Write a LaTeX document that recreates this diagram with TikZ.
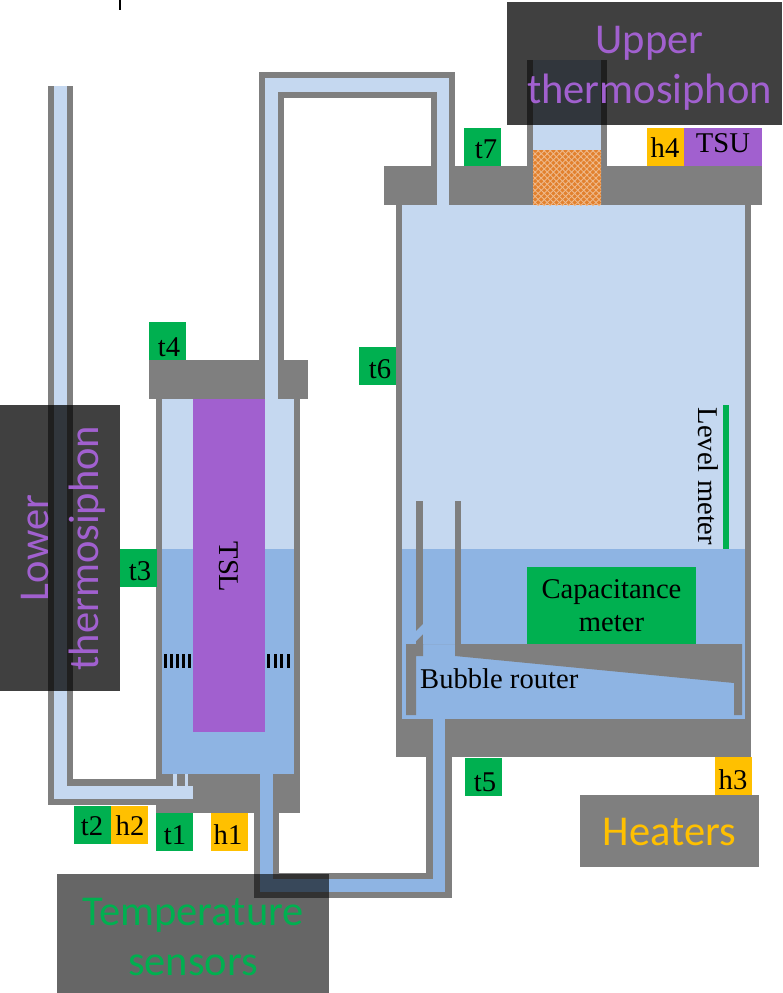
\documentclass[tikz,border=0pt]{standalone}
\usepackage{fontspec}
\setmainfont{Liberation Serif}
\newfontfamily\calfont{Carlito}
\usetikzlibrary{patterns.meta}
\definecolor{wallc}{HTML}{7F7F7F}
\definecolor{vapc}{HTML}{C5D8F0}
\definecolor{liqc}{HTML}{8EB4E3}
\definecolor{tsc}{HTML}{A160CF}
\definecolor{sensc}{HTML}{00B050}
\definecolor{heatc}{HTML}{FFC000}
\definecolor{sandc}{HTML}{E2812E}
\tikzset{
  wall/.style={fill=wallc},
  vap/.style={fill=vapc},
  liq/.style={fill=liqc},
  cold/.style={fill=tsc},
  tagbox/.style={inner sep=0pt, minimum width=37pt, minimum height=38pt},
  tagtxt/.style={inner sep=0pt, font=\fontsize{28.6}{30}\selectfont},
  lbl/.style={inner sep=0pt, align=center, font=\fontsize{28.6}{33}\selectfont},
  veil/.style={fill=black, fill opacity=#1},
  callout/.style={inner sep=0pt, align=center, font=\calfont\fontsize{42.5}{50}\selectfont},
}
\begin{document}
\begin{tikzpicture}[x=1pt, y=-1pt]
\useasboundingbox (0,0) rectangle (782,993);

\draw[line width=2.5pt] (120,0) -- (120,10);

% lower thermosiphon
\fill[wall] (48,86) rectangle (73,805);
\fill[wall] (48,779) rectangle (156,805);
\fill[vap] (54,86) rectangle (67,799);

% lower vessel
\fill[wall] (156,399) rectangle (300,813);
\fill[vap] (162,399) rectangle (294,549);
\fill[liq] (162,549) rectangle (294,774);
\fill[vap] (173,774) rectangle (177,786);
\fill[vap] (185,774) rectangle (188,786);
\fill[vap] (54,786) rectangle (193,799);
\fill[wall] (149,360) rectangle (308,399);
\fill[cold] (193,399) rectangle (265,732);
\node[rotate=-90, lbl] (tsl) at (229,567) {TSL};
\foreach \k in {0,...,4}
  \fill[black] (164+\k*6.1,654) rectangle (167+\k*6.1,668);
\foreach \k in {0,...,3}
  \fill[black] (267+\k*6.5,654) rectangle (270+\k*6.5,668);

% riser and downcomer
\fill[wall] (259,72) rectangle (455,166);
\fill[white] (284,98) rectangle (431,166);
\fill[wall] (259,98) rectangle (284,360);
\fill[vap] (265,78) rectangle (449,92);
\fill[vap] (265,78) rectangle (278,399);
\fill[wall] (278,92) rectangle (437,98);
\fill[wall] (254,774) rectangle (279,898);
\fill[wall] (254,873) rectangle (452,898);
\fill[wall] (426,757) rectangle (452,898);
\fill[liq] (260,774) rectangle (273,892);
\fill[liq] (260,879) rectangle (445,892);

% upper vessel
\fill[wall] (396,205) rectangle (751,757);
\fill[vap] (402,205) rectangle (745,549);
\fill[liq] (402,549) rectangle (745,719);
\fill[liq] (433,719) rectangle (445,892);
\fill[wall] (384,166) rectangle (762,205);
\fill[vap] (437,92) rectangle (449,205);

% upper thermosiphon
\fill[wall] (527,60) rectangle (607,166);
\fill[vap] (533,60) rectangle (601,150);
\fill[sandc] (533,150) rectangle (601,205);
\fill[pattern={Lines[angle=45, distance=4.3pt, line width=0.9pt]}, pattern color=white!45!sandc] (533,150) rectangle (601,205);
\fill[pattern={Lines[angle=-45, distance=4.3pt, line width=0.9pt]}, pattern color=white!45!sandc] (533,150) rectangle (601,205);

% bubble router
\fill[wall] (416,501) rectangle (423,644);
\fill[wall] (455,501) rectangle (461,644);
\fill[wall] (406,644) -- (742,644) -- (742,715) -- (734,715) -- (734,683) -- (455,656)
  -- (455,644) -- (423,644) -- (423,656) -- (416,656) -- (416,715) -- (406,715) -- cycle;
\fill[liq] (423,624) -- (423,634) -- (416,641) -- (416,631) -- cycle;
\node[lbl, anchor=base west] (router) at (420,688) {Bubble router};

% meters
\node[lbl, fill=sensc, minimum width=169pt, minimum height=77pt] (capmeter) at (611.5,605.5) {Capacitance\\meter};
\fill[sensc] (723,405) rectangle (729,549);
\node[rotate=-90, lbl] (levelmeter) at (708,476.5) {Level meter};

% sensors and heaters
\foreach \nm/\col/\x/\y/\tx/\ty in {t1/sensc/174.5/831.5/175/835, t2/sensc/92/824.5/92/826,
    t3/sensc/138/568/140/571, t4/sensc/167.5/340.5/169/347, t5/sensc/483.5/776.5/485/782,
    t6/sensc/377.5/366/380/369, t7/sensc/482.5/147/486/149,
    h1/heatc/229/832/228/835, h2/heatc/129/824.5/130/826, h3/heatc/733/776/733/780,
    h4/heatc/665/147/665/148} {
  \node[tagbox, fill=\col] (\nm) at (\x,\y) {};
  \node[tagtxt] (\nm txt) at (\tx,\ty) {\nm};
}
\node[tagbox, fill=tsc, minimum width=78pt] (tsu) at (723,147) {};
\node[tagtxt] (tsutxt) at (723,143) {TSU};

% callouts
\fill[veil=0.75] (507,2) rectangle (782,125);
\fill[veil=0.75] (0,405) rectangle (120,691);
\fill[veil=0.6] (57,874) rectangle (329,993);
\fill[veil=0.5] (580,795) rectangle (759,867);
\node[callout, text=tsc] (upper) at (649.5,68.5) {Upper\\thermosiphon};
\node[callout, text=tsc, rotate=90] (lower) at (63,548) {Lower\\thermosiphon};
\node[callout, text=sensc] (tempsens) at (193,937.5) {Temperature\\sensors};
\node[callout, text=heatc] (heaters) at (669.5,832) {Heaters};
\end{tikzpicture}
\end{document}
